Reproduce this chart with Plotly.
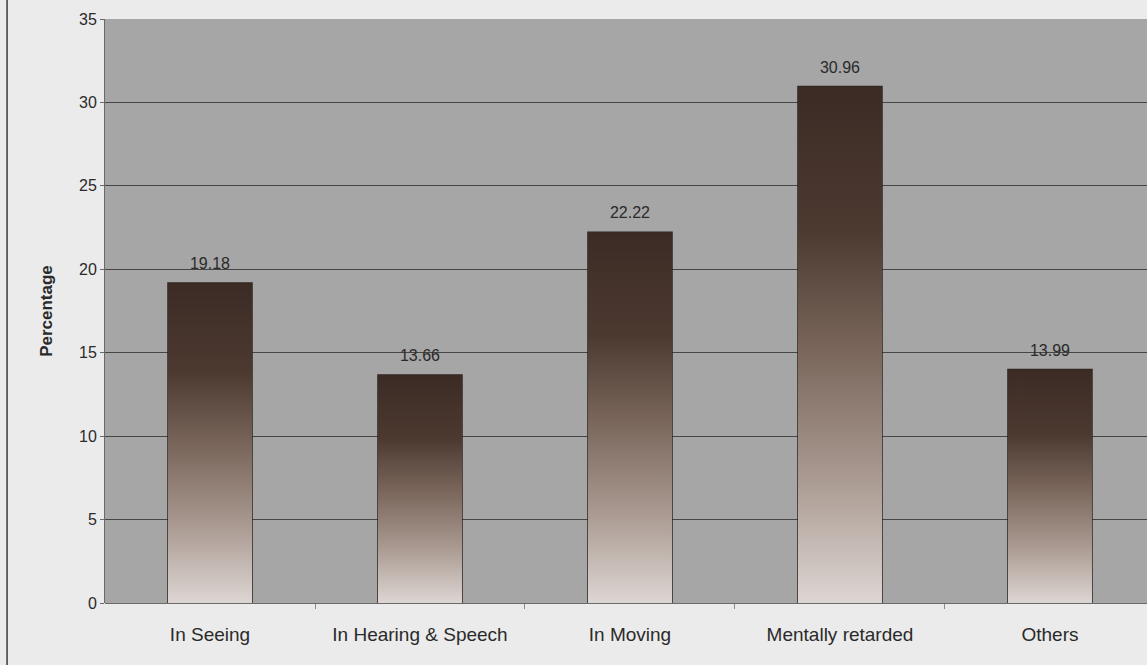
import plotly.graph_objects as go

categories = ["In Seeing", "In Hearing & Speech", "In Moving", "Mentally retarded", "Others"]
values = [19.18, 13.66, 22.22, 30.96, 13.99]
y_ticks = [0, 5, 10, 15, 20, 25, 30, 35]

bar_w = 0.4
grad = [[0.0, "#ddd6d3"], [0.25, "#a8988f"], [0.5, "#786459"], [0.72, "#4c3a31"], [1.0, "#3c2b25"]]

fig = go.Figure()
idx = list(range(len(categories)))

# gradient fills, derived from data values
for i, v in zip(idx, values):
    fig.add_trace(go.Scatter(
        x=[i - bar_w / 2, i + bar_w / 2, i + bar_w / 2, i - bar_w / 2, i - bar_w / 2],
        y=[0, 0, v, v, 0],
        mode="lines", fill="toself",
        line=dict(width=0, color="rgba(0,0,0,0)"),
        fillgradient=dict(type="vertical", colorscale=grad),
        hoverinfo="skip", showlegend=False,
    ))

# outline
fig.add_trace(go.Bar(
    x=idx, y=values, width=bar_w,
    marker=dict(color="rgba(0,0,0,0)", line=dict(color="#2e2420", width=1.5)),
    showlegend=False,
))

# value labels
fig.add_trace(go.Scatter(
    x=idx, y=values, mode="markers+text",
    marker=dict(size=14, color="rgba(0,0,0,0)"),
    text=[f"{v:.2f}" for v in values], textposition="top center",
    textfont=dict(family="Liberation Sans, Arial", size=16, color="#2a2a2a"),
    cliponaxis=False, showlegend=False, hoverinfo="skip",
))

fig.update_layout(
    width=1147, height=665,
    margin=dict(l=105, r=0, t=19, b=62),
    paper_bgcolor="#ebebeb", plot_bgcolor="#a6a6a6",
    font=dict(family="Liberation Sans, Arial", color="#2a2a2a"),
    xaxis=dict(
        range=[-0.5, 4.462], tickvals=idx, ticktext=categories,
        tickfont=dict(size=19), ticks="", showgrid=False, zeroline=False,
        showline=False, ticklabelstandoff=18,
        minor=dict(tickvals=[0.5, 1.5, 2.5, 3.5], ticks="outside", ticklen=5,
                   tickcolor="#8a8a8a", showgrid=False),
    ),
    yaxis=dict(
        range=[0, 35], tickvals=y_ticks, tickfont=dict(size=16),
        showgrid=True, gridcolor="#454545", gridwidth=1,
        zeroline=True, zerolinecolor="#6a6a6a", zerolinewidth=1,
        showline=True, linecolor="#6a6a6a", linewidth=1,
        ticks="outside", ticklen=4, tickcolor="#6a6a6a",
        title=dict(text="<b>Percentage</b>", font=dict(size=17), standoff=22),
    ),
    shapes=[dict(type="line", xref="paper", yref="paper",
                 x0=-0.094, x1=-0.094, y0=-0.11, y1=1.04,
                 line=dict(color="#3a3a3a", width=1.5))],
)

fig.write_html("out.html", config={"displayModeBar": False},
               post_script="document.body.style.margin='0';document.body.style.background='#ebebeb';")
